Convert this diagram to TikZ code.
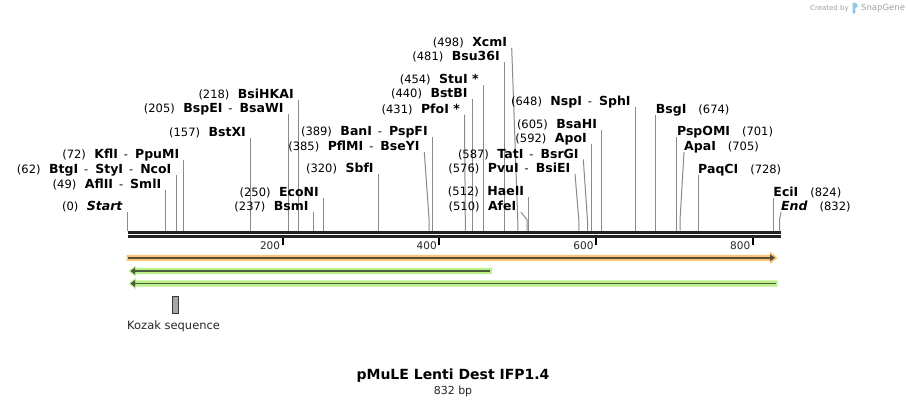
\documentclass[tikz,border=0pt]{standalone}
\usepackage{fontspec}
\setmainfont{DejaVu Sans}
\usetikzlibrary{calc}
\definecolor{orL}{HTML}{FCC474}
\definecolor{grL}{HTML}{BBEF8A}
\definecolor{orD}{HTML}{574B3A}
\definecolor{grD}{HTML}{4B5A3A}
\definecolor{siteC}{HTML}{8A8A8A}
\definecolor{kozF}{HTML}{A3A7AE}
\definecolor{kozB}{HTML}{3A3A3A}
\definecolor{logoC}{HTML}{A0A0A0}
\definecolor{logoB}{HTML}{8EC8EC}
\definecolor{bbC}{HTML}{222222}
\newcommand{\pxx}[1]{127.5+0.7837*#1}
\newcommand{\nm}[1]{{\fontsize{11.5}{13}\selectfont\mdseries #1}}
\newcommand{\en}[1]{{\fontsize{12.5}{14}\selectfont\bfseries #1}}
\newcommand{\dsh}{\hspace{6pt}{\fontsize{11.5}{13}\selectfont\mdseries -}\hspace{7pt}}
\tikzset{
  lblL/.style={anchor=base east, inner sep=0pt, xshift=-4.5pt},
  lblR/.style={anchor=base west, inner sep=0pt},
  site/.style={draw=siteC, line width=1pt},
  tickmark/.style={draw=black, line width=2pt},
  ticklbl/.style={anchor=base east, inner sep=0pt, font=\fontsize{10.5}{12}\selectfont, text=black!85},
}
% pos, cy, text, key
\newcommand{\siteL}[4]{%
  \coordinate (s#4) at ({\pxx{#1}},230.5);
  \node[lblL] (l#4) at ({\pxx{#1}},{#2+4}) {\nm{(#1)}\hspace{8.5pt}\en{#3}};
  \draw[site] (s#4) -- ($(s#4 |- l#4.base)+(0,1.5)$);
}
% pos, cy, text, key, topx, bendy
\newcommand{\siteLB}[6]{%
  \coordinate (s#4) at ({\pxx{#1}},230.5);
  \node[lblL] (l#4) at (#5,{#2+4}) {\nm{(#1)}\hspace{8.5pt}\en{#3}};
  \draw[site] (s#4) -- ++(0,{#6-230.5}) -- ($(l#4.base east)+(4.5,1.5)$);
}
\newcommand{\siteR}[4]{%
  \coordinate (s#4) at ({\pxx{#1}},230.5);
  \node[lblR] (l#4) at ({\pxx{#1}},{#2+4}) {\en{#3}\hspace{12pt}\nm{(#1)}};
  \draw[site] (s#4) -- ($(s#4 |- l#4.base)+(0,1.5)$);
}
\newcommand{\siteRB}[6]{%
  \coordinate (s#4) at ({\pxx{#1}},230.5);
  \node[lblR] (l#4) at (#5,{#2+4}) {\en{#3}\hspace{12pt}\nm{(#1)}};
  \draw[site] (s#4) -- ++(0,{#6-230.5}) -- ($(l#4.base west)+(0,1.5)$);
}
\begin{document}
\begin{tikzpicture}[x=1pt,y=-1pt]
\fill[white] (0,0) rectangle (908,407);
\useasboundingbox (0,0) rectangle (908,407);

% logo
\node[anchor=base west, inner sep=0pt, text=logoC, font=\fontsize{7}{8}\selectfont] (cre) at (810,10) {Created by};
\fill[logoB, rounded corners=0.8pt] (852.5,2.5) rectangle (855.3,13.5);
\fill[logoB] (855.3,5.6) circle (2.4);
\node[anchor=base west, inner sep=0pt, text=logoC, font=\fontsize{8.5}{10}\selectfont] (sg) at (861,10.5) {SnapGene};

% backbone
\coordinate (bbL) at (127.5,232.3);
\coordinate (bbR) at (780.5,232.3);
\draw[bbC, line width=2.7pt] (bbL) -- (bbR);
\draw[bbC, line width=2.3pt] ([yshift=-4.2pt]bbL) -- ([yshift=-4.2pt]bbR);

% ticks
\foreach \t in {200,400,600,800}{
  \coordinate (t\t) at ({\pxx{\t}-1.5},238);
  \draw[tickmark] (t\t) -- ++(0,7);
  \node[ticklbl] (tl\t) at ($(t\t)+(-2.5,11.3)$) {\t};
}

% sites
\siteL{0}{206.7}{\textit{Start}}{a0}
\siteL{49}{184.3}{AflII\dsh SmlI}{a49}
\siteL{62}{169}{BtgI\dsh StyI\dsh NcoI}{a62}
\siteL{72}{154}{KflI\dsh PpuMI}{a72}
\siteL{157}{132}{BstXI}{a157}
\siteL{205}{108.7}{BspEI\dsh BsaWI}{a205}
\siteL{218}{94.3}{BsiHKAI}{a218}
\siteL{237}{206.7}{BsmI}{a237}
\siteL{250}{192}{EcoNI}{a250}
\siteL{320}{168.3}{SbfI}{a320}
\siteLB{385}{146.7}{PflMI\dsh BseYI}{a385}{424.3}{221}
\siteL{389}{131.7}{BanI\dsh PspFI}{a389}
\siteLB{431}{109}{PfoI *}{a431}{464.5}{220}
\siteL{440}{93.3}{BstBI}{a440}
\siteL{454}{79}{StuI *}{a454}
\siteL{481}{56.7}{Bsu36I}{a481}
\siteLB{498}{42.3}{XcmI}{a498}{511.7}{221}
\siteLB{510}{206.7}{AfeI}{a510}{521}{220}
\siteL{512}{191.7}{HaeII}{a512}
\siteLB{576}{168.3}{PvuI\dsh BsiEI}{a576}{575}{221}
\siteLB{587}{154}{TatI\dsh BsrGI}{a587}{583.3}{221}
\siteL{592}{138.3}{ApoI}{a592}
\siteL{605}{124}{BsaHI}{a605}
\siteL{648}{101.7}{NspI\dsh SphI}{a648}
\siteR{674}{109.3}{BsgI}{a674}
\siteR{701}{131.7}{PspOMI}{a701}
\siteRB{705}{146.7}{ApaI}{a705}{684}{220}
\siteR{728}{169}{PaqCI}{a728}
\siteR{824}{192.3}{EciI}{a824}
\siteRB{832}{206.7}{\textit{End}}{a832}{781}{220}

% features
\fill[orL] (126.7,254.8) -- (770,254.8) -- (770,251.7) -- (777.5,257.8) -- (770,263.8) -- (770,260.8) -- (126.7,260.8) -- cycle;
\draw[orD, line width=1.8pt] (128,257.8) -- (771,257.8);
\fill[orD] (770,254.3) -- (775,257.8) -- (770,261.3) -- cycle;

\fill[grL] (492,267.8) -- (135.5,267.8) -- (135.5,265.5) -- (128.5,271) -- (135.5,276.5) -- (135.5,274.2) -- (492,274.2) -- cycle;
\draw[grD, line width=1.8pt] (490,271) -- (134,271);
\fill[grD] (135,267.5) -- (130.5,271) -- (135,274.5) -- cycle;

\fill[grL] (777.7,280.3) -- (135.5,280.3) -- (135.5,278) -- (128.5,283.5) -- (135.5,289) -- (135.5,286.7) -- (777.7,286.7) -- cycle;
\draw[grD, line width=1.8pt] (775.7,283.5) -- (134,283.5);
\fill[grD] (135,280) -- (130.5,283.5) -- (135,287) -- cycle;

% Kozak
\node[draw=kozB, fill=kozF, line width=1.2pt, minimum width=6.2pt, minimum height=17pt, inner sep=0pt] (koz) at (175.7,304.8) {};
\node[anchor=west, inner sep=0pt, font=\fontsize{11.5}{13}\selectfont, text=black!85] (kozl) at (127,326) {Kozak sequence};

% title
\node[inner sep=0pt, font=\fontsize{14}{16}\selectfont\bfseries] (title) at (453,376) {pMuLE Lenti Dest IFP1.4};
\node[inner sep=0pt, font=\fontsize{11}{13}\selectfont, text=black!85] (bp) at (453,391.5) {832 bp};
\end{tikzpicture}
\end{document}
